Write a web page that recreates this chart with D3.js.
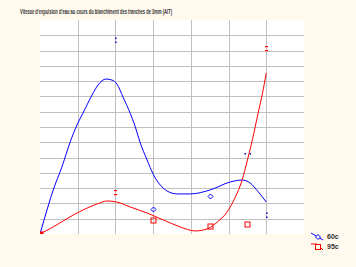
<!DOCTYPE html>
<html>
<head>
<meta charset="utf-8">
<script src="https://cdn.jsdelivr.net/npm/d3@7"></script>
<style>
  body { margin: 0; background: #fff9ee; }
  svg { display: block; }
</style>
</head>
<body>
<div id="chart"></div>
<script>
// Chart title and series names
const title = "Vitesse d'expulsion d'eau au cours du blanchiment des tranches de 3mm (AIT)";
const seriesNames = ['60c', '95c'];

// Measured points
const xValues = [0, 2, 3, 4.5, 5.5, 6];
const blueValues = [0, 12.7, 1.64, 2.49, 5.3, 1.24];
const redValues = [0, 2.75, 0.92, 0.52, 0.65, 12.2];

// Trend curves
const blueCurveX = [0, 0.13, 0.35, 0.58, 0.8, 0.98, 1.14, 1.38, 1.54, 1.75, 1.91, 2.04, 2.2, 2.39, 2.52, 2.65, 2.84, 3.0, 3.19, 3.37, 3.64, 3.98, 4.51, 5.04, 5.36, 5.57, 5.79, 6.0];
const blueCurveY = [0, 1.11, 2.88, 4.38, 6.02, 7.13, 7.91, 9.09, 9.75, 10.14, 10.07, 9.81, 8.96, 7.91, 7.06, 6.02, 4.84, 3.92, 3.2, 2.81, 2.62, 2.62, 2.88, 3.4, 3.53, 3.34, 2.75, 2.09];
const redCurveX = [0, 0.35, 0.88, 1.51, 1.78, 2.04, 2.39, 2.84, 3.27, 3.72, 4.11, 4.43, 4.7, 4.96, 5.18, 5.36, 5.5, 5.63, 5.79, 5.89, 6.0];
const redCurveY = [0, 0.46, 1.24, 1.96, 2.16, 2.09, 1.77, 1.37, 0.92, 0.46, 0.2, 0.33, 0.78, 1.44, 2.42, 3.53, 4.84, 6.15, 7.98, 9.09, 10.53];

const width = 356;
const height = 267;
const plot = { left: 40, right: 304, top: 20, bottom: 234 };

const svg = d3.select('#chart')
  .append('svg')
  .attr('width', width)
  .attr('height', height);

svg.append('rect').attr('width', width).attr('height', height).attr('fill', '#fff9ee');

const xScale = d3.scaleLinear().domain([0, 7]).range([plot.left, plot.right]);
const yScale = d3.scaleLinear().domain([0, 14]).range([plot.bottom, plot.top]);

// Plot area
svg.append('rect')
  .attr('x', plot.left)
  .attr('y', plot.top)
  .attr('width', plot.right - plot.left)
  .attr('height', plot.bottom - plot.top)
  .attr('fill', '#ffffff');

svg.append('clipPath').attr('id', 'clip')
  .append('rect')
  .attr('x', plot.left)
  .attr('y', plot.top)
  .attr('width', plot.right - plot.left)
  .attr('height', plot.bottom - plot.top);

// Gridlines
const grid = svg.append('g').attr('shape-rendering', 'crispEdges');
grid.append('g')
  .attr('transform', `translate(0,${plot.bottom})`)
  .call(d3.axisBottom(xScale).tickValues(d3.range(1, 7)).tickSize(-(plot.bottom - plot.top)).tickFormat(''));
grid.append('g')
  .attr('transform', `translate(${plot.left},0)`)
  .call(d3.axisLeft(yScale).tickValues(d3.range(1, 14)).tickSize(-(plot.right - plot.left)).tickFormat(''));
grid.selectAll('.domain').remove();
grid.selectAll('line').attr('stroke', '#c0c0c0');

// Title
svg.append('text')
  .attr('x', 20)
  .attr('y', 14)
  .attr('textLength', 152)
  .attr('lengthAdjust', 'spacingAndGlyphs')
  .attr('font-family', 'Liberation Sans, Arial, sans-serif')
  .attr('font-size', 7)
  .attr('font-weight', 'bold')
  .attr('fill', '#333')
  .text(title);

const line = d3.line()
  .x((d) => xScale(d[0]))
  .y((d) => yScale(d[1]))
  .curve(d3.curveMonotoneX);

const g = svg.append('g').attr('clip-path', 'url(#clip)');

g.append('path')
  .datum(d3.zip(blueCurveX, blueCurveY))
  .attr('fill', 'none')
  .attr('stroke', '#0000ff')
  .attr('stroke-width', 1)
  .attr('d', line);

g.append('path')
  .datum(d3.zip(redCurveX, redCurveY))
  .attr('fill', 'none')
  .attr('stroke', '#ff0000')
  .attr('stroke-width', 1)
  .attr('d', line);

// Some markers only show as a couple of stray pixels in the original
const blueGhost = { 1: 'v', 4: 'h', 5: 'v' };
const redGhost = { 1: 'v', 5: 'v' };

const diamond = (x, y, r) => `M${x},${y - r}L${x + r},${y}L${x},${y + r}L${x - r},${y}Z`;

// Blue markers
xValues.forEach((xv, i) => {
  const cx = Math.round(xScale(xv)) + 0.5;
  const cy = Math.round(yScale(blueValues[i])) + 0.5;
  if (blueGhost[i] === 'v') {
    g.append('rect').attr('x', cx - 0.5).attr('y', cy - 3).attr('width', 1.5).attr('height', 1.5).attr('fill', '#0000cc');
    g.append('rect').attr('x', cx - 0.5).attr('y', cy + 1).attr('width', 1.5).attr('height', 1.5).attr('fill', '#0000cc');
  } else if (blueGhost[i] === 'h') {
    g.append('rect').attr('x', cx - 3).attr('y', cy - 0.5).attr('width', 1.5).attr('height', 1.5).attr('fill', '#0000cc');
    g.append('rect').attr('x', cx + 2).attr('y', cy - 0.5).attr('width', 1.5).attr('height', 1.5).attr('fill', '#0000cc');
  } else if (i > 0) {
    g.append('path').attr('d', diamond(cx, cy, 2.5)).attr('fill', 'none').attr('stroke', '#0000ff').attr('stroke-width', 1);
  }
});

// Red markers
xValues.forEach((xv, i) => {
  const cx = Math.round(xScale(xv)) + 0.5;
  const cy = Math.round(yScale(redValues[i])) + 0.5;
  if (redGhost[i]) {
    g.append('rect').attr('x', cx - 1.5).attr('y', cy - 2.5).attr('width', 3).attr('height', 1.2).attr('fill', '#ff0000');
    g.append('rect').attr('x', cx - 1.5).attr('y', cy + 1.5).attr('width', 3).attr('height', 1.2).attr('fill', '#ff0000');
  } else {
    g.append('rect').attr('x', cx - 2.5).attr('y', cy - 2.5).attr('width', 5).attr('height', 5)
      .attr('fill', i === 0 ? '#ff0000' : 'none').attr('stroke', '#ff0000').attr('stroke-width', 1);
  }
});

// Legend
const legend = svg.append('g').attr('transform', 'translate(311,233)');
const legendColors = ['#0000ff', '#ff0000'];
seriesNames.forEach((name, i) => {
  const row = legend.append('g').attr('transform', `translate(0,${i * 10})`);
  row.append('path')
    .attr('d', i === 0 ? 'M0,0L12,7' : 'M0,1L6,1L12,7')
    .attr('fill', 'none')
    .attr('stroke', legendColors[i]);
  if (i === 0) {
    row.append('path').attr('d', diamond(7, 4, 2.5)).attr('fill', '#fff9ee').attr('stroke', legendColors[i]);
  } else {
    row.append('rect').attr('x', 4.5).attr('y', 1.5).attr('width', 5).attr('height', 5).attr('fill', '#fff9ee').attr('stroke', legendColors[i]);
  }
  row.append('text')
    .attr('x', 16)
    .attr('y', 6)
    .attr('font-family', 'Liberation Sans, Arial, sans-serif')
    .attr('font-size', 7)
    .attr('font-weight', 'bold')
    .attr('fill', '#333')
    .text(name);
});
</script>
</body>
</html>
